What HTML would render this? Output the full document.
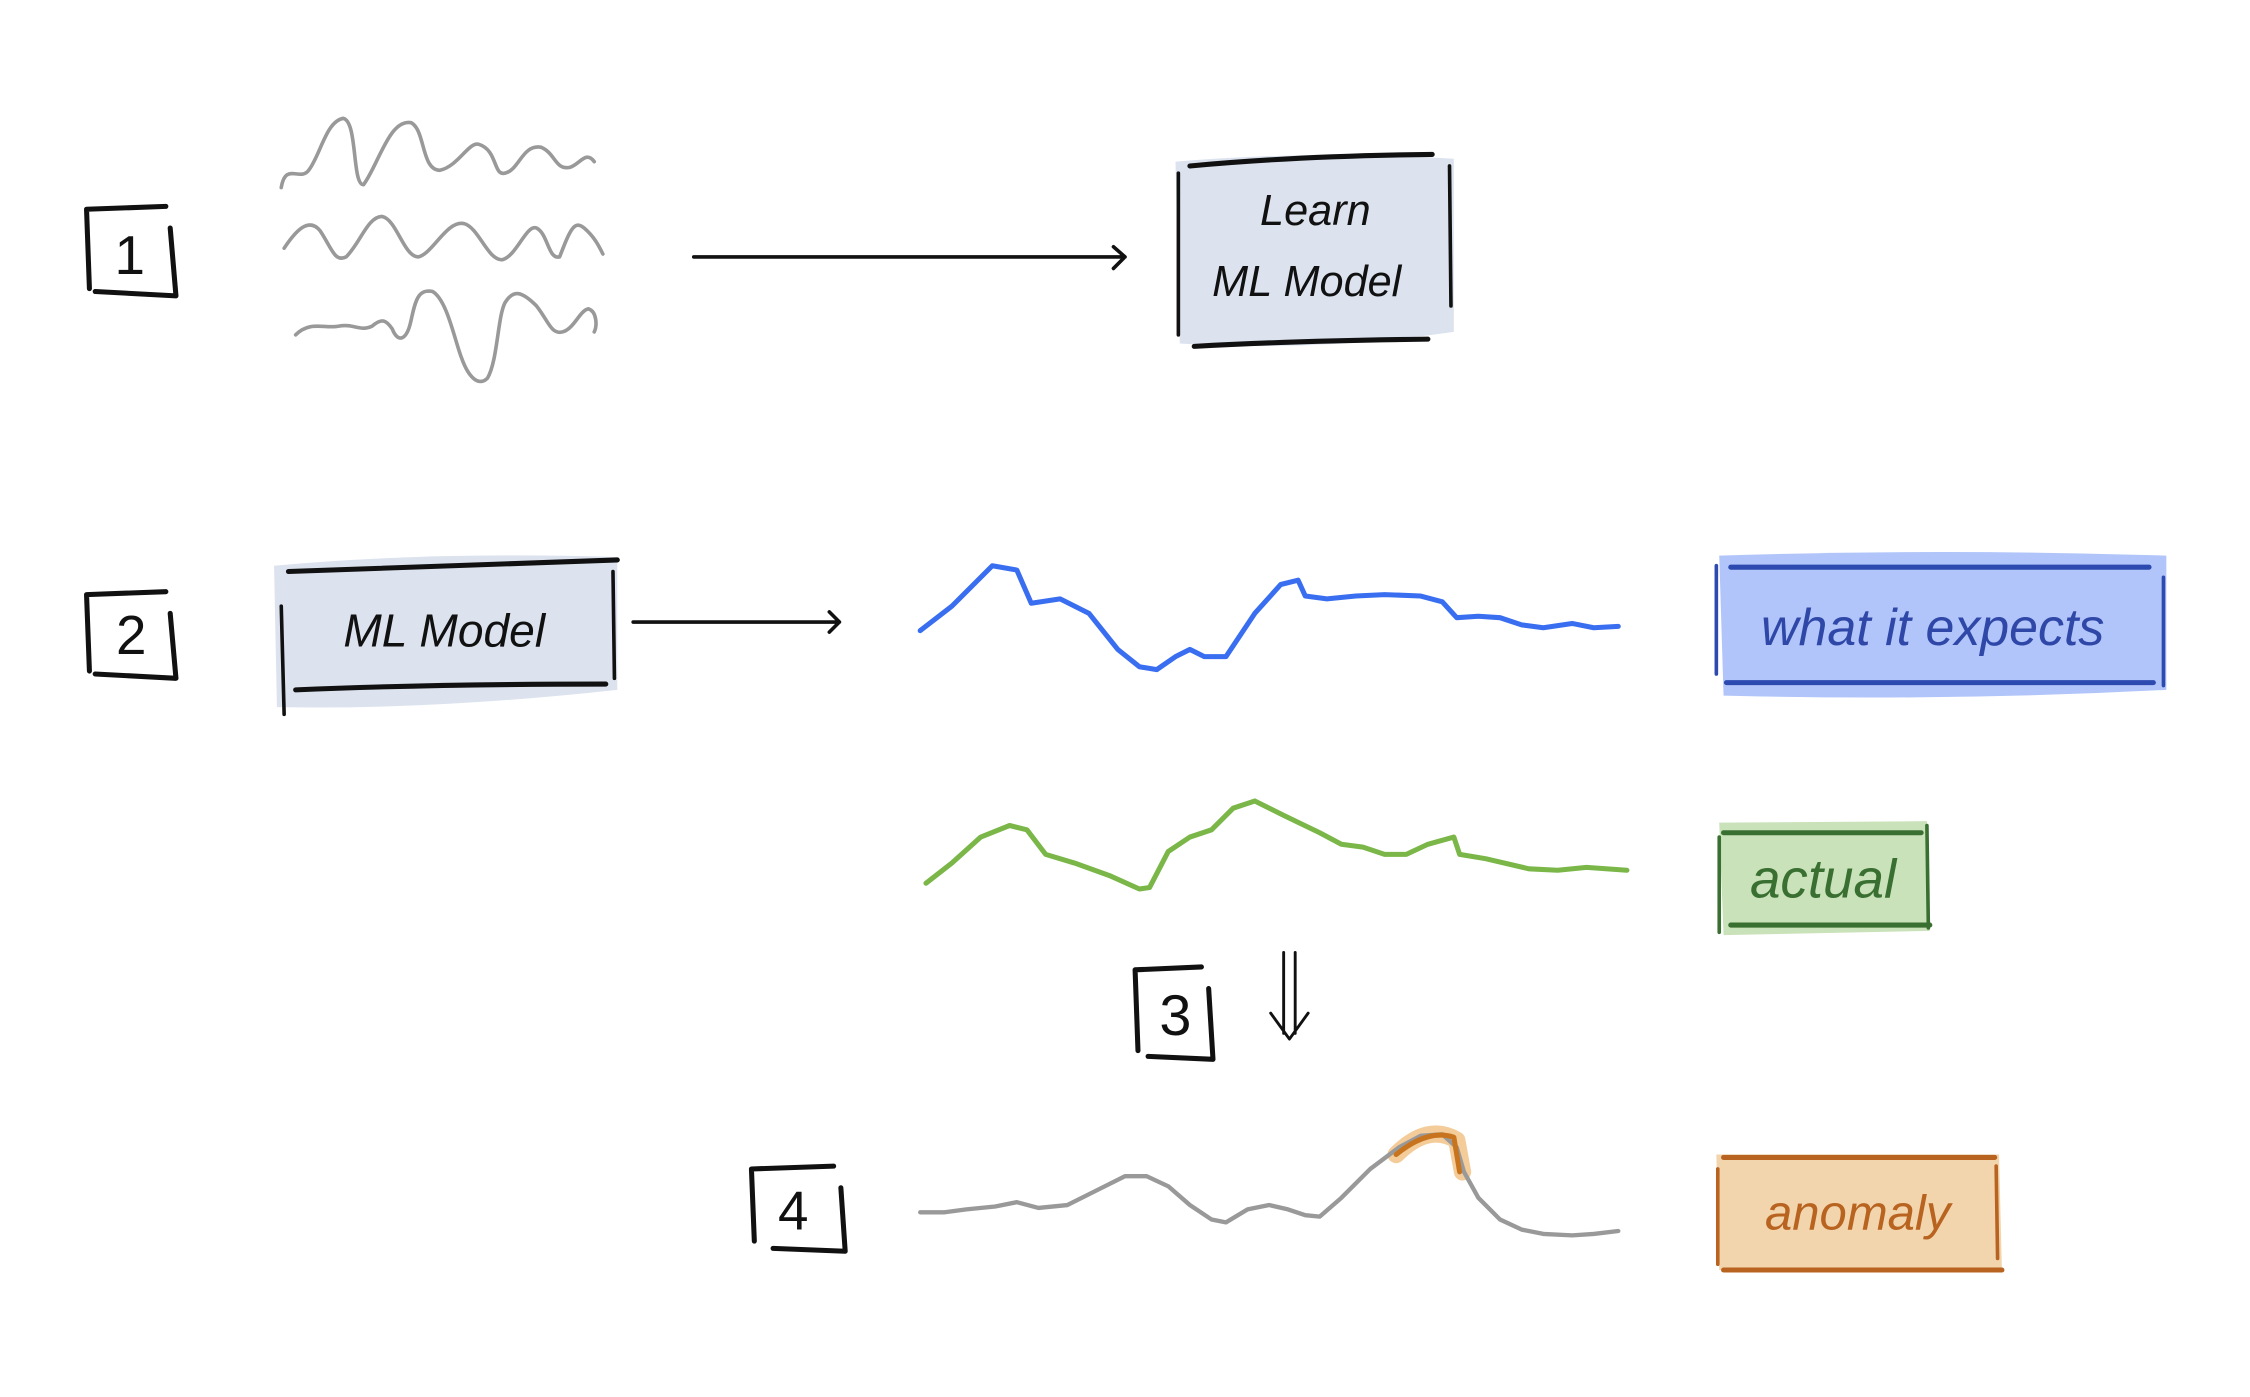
<!DOCTYPE html>
<html><head><meta charset="utf-8"><style>
html,body{margin:0;padding:0;background:#fff;}
svg{display:block}
text{font-family:"Liberation Sans",sans-serif;}
</style></head><body>
<svg width="2250" height="1397" viewBox="0 0 1560 968" preserveAspectRatio="none" xmlns="http://www.w3.org/2000/svg">
<g fill="none" stroke-linecap="round" stroke-linejoin="round">
<!-- box 1 -->
<path d="M62 200 L60 145 L115 143 M118 158 L122 205 L66 202" stroke="#111" stroke-width="3.5"/>
<!-- box 2 -->
<path d="M62 465 L60 412 L115 410 M118 425 L122 470 L66 467" stroke="#111" stroke-width="3.5"/>
<!-- box 3 -->
<path d="M789 728 L787 672 L833 670 M838 685 L841 734 L796 732" stroke="#111" stroke-width="3.5"/>
<!-- box 4 -->
<path d="M523 860 L521 810 L578 808 M583 823 L586 867 L536 865" stroke="#111" stroke-width="3.5"/>

<!-- gray waves -->
<path d="M195 130 C198 112 208 126 214 118 C222 108 226 84 238 82 C248 84 244 128 252 128 C262 115 270 82 285 85 C295 90 292 118 305 118 C318 115 325 98 332 100 C345 104 342 122 350 120 C360 118 362 100 375 102 C385 106 385 118 395 116 C402 114 406 104 412 112" stroke="#999" stroke-width="2.5"/>
<path d="M197 172 C205 160 214 150 222 160 C230 172 232 182 240 178 C250 168 255 150 265 150 C275 152 280 178 290 178 C300 176 310 152 322 155 C332 158 338 180 348 180 C358 178 365 155 372 158 C380 162 380 180 388 178 C395 160 398 152 405 158 C412 164 415 170 418 176" stroke="#999" stroke-width="2.5"/>
<path d="M205 232 C215 222 225 228 235 226 C245 224 250 230 258 226 C265 220 268 222 272 228 C276 238 282 236 285 222 C288 208 290 200 300 202 C310 208 315 235 320 248 C325 262 332 268 338 262 C345 250 345 220 350 210 C356 200 362 202 372 212 C380 222 382 232 390 230 C398 228 402 215 408 214 C414 216 414 226 412 230" stroke="#999" stroke-width="2.5"/>

<!-- arrow 1 -->
<path d="M481 178 L780 178 M772 171 L780 178 L772 186" stroke="#111" stroke-width="2.5"/>
</g>

<!-- Learn box -->
<path d="M815 112 Q910 104 1008 110 L1008 230 Q912 244 818 238 Z" fill="#dce3ef"/>
<g fill="none" stroke="#111" stroke-linecap="round">
<path d="M825 115 Q900 108 993 107" stroke-width="3.5"/>
<path d="M828 240 Q900 236 990 235" stroke-width="3.5"/>
<path d="M817 120 L817 232" stroke-width="2.5"/>
<path d="M1005 115 L1006 212" stroke-width="2.5"/>
</g>
<text x="912" y="156" font-size="30" font-style="italic" text-anchor="middle" fill="#111">Learn</text>
<text x="906" y="205" font-size="30" font-style="italic" text-anchor="middle" fill="#111">ML Model</text>

<!-- ML Model box -->
<path d="M190 392 Q300 382 428 386 L428 478 Q300 492 192 490 Z" fill="#dce3ef"/>
<g fill="none" stroke="#111" stroke-linecap="round">
<path d="M200 396 Q310 392 428 388" stroke-width="3.5"/>
<path d="M205 478 Q300 474 420 474" stroke-width="3.5"/>
<path d="M195 420 L197 495" stroke-width="2.5"/>
<path d="M425 396 L426 470" stroke-width="2.5"/>
</g>
<text x="308" y="448" font-size="32" font-style="italic" text-anchor="middle" fill="#111">ML  Model</text>

<g fill="none" stroke-linecap="round" stroke-linejoin="round">
<!-- arrow 2 -->
<path d="M439 431 L582 431 M575 424 L582 431 L575 438" stroke="#111" stroke-width="2.5"/>
<!-- blue line -->
<path d="M638 437 L660 420 L675 405 L688 392 L705 395 L715 418 L735 415 L755 425 L775 450 L790 462 L802 464 L815 455 L825 450 L835 455 L850 455 L870 425 L888 405 L900 402 L905 413 L920 415 L940 413 L960 412 L985 413 L1000 417 L1010 428 L1025 427 L1040 428 L1055 433 L1070 435 L1090 432 L1105 435 L1122 434" stroke="#3a6ef0" stroke-width="3.5"/>
<!-- green line -->
<path d="M642 612 L660 598 L680 580 L700 572 L712 575 L725 592 L745 598 L770 607 L790 616 L797 615 L810 590 L825 580 L840 575 L855 560 L870 555 L890 565 L915 577 L930 585 L945 587 L960 592 L975 592 L990 585 L1008 580 L1012 592 L1030 595 L1060 602 L1080 603 L1100 601 L1128 603" stroke="#7ab648" stroke-width="3.5"/>
<!-- gray line 4 -->
<path d="M968 800 Q990 778 1010 790 L1014 812" stroke="#f3cc9a" stroke-width="12"/>
<path d="M638 840 L655 840 L670 838 L690 836 L705 833 L720 837 L740 835 L760 825 L780 815 L795 815 L810 822 L825 835 L840 845 L850 847 L865 838 L880 835 L893 838 L905 842 L915 843 L930 830 L950 810 L970 795 L985 787 L1000 786 L1010 795 L1015 812 L1025 830 L1040 845 L1055 852 L1070 855 L1090 856 L1105 855 L1122 853" stroke="#999" stroke-width="3"/>
<path d="M968 800 Q990 782 1008 788 L1012 812" stroke="#c8741e" stroke-width="3.5"/>
<!-- double arrow -->
<path d="M890 660 L890 716 M898 660 L898 716 M881 702 L894 720 L907 702" stroke="#111" stroke-width="2"/>
</g>

<!-- blue box -->
<path d="M1192 385 Q1350 380 1502 385 L1502 478 Q1350 486 1195 482 Z" fill="#b1c5fa"/>
<g stroke="#2d4ab0" stroke-linecap="round" fill="none">
<path d="M1200 393 L1490 393" stroke-width="3.5"/>
<path d="M1197 473 L1493 473" stroke-width="3.5"/>
<path d="M1190 392 L1190 467" stroke-width="2.5"/>
<path d="M1500 400 L1500 475" stroke-width="2.5"/>
</g>
<text x="1340" y="447" font-size="36" font-style="italic" text-anchor="middle" fill="#2f48a8">what it expects</text>

<!-- green box -->
<path d="M1192 570 L1336 569 L1338 645 L1195 648 Z" fill="#c9e2b9"/>
<g stroke="#3a6f32" stroke-linecap="round" fill="none">
<path d="M1195 577 L1332 577" stroke-width="3.5"/>
<path d="M1200 641 L1338 641" stroke-width="3.5"/>
<path d="M1192 580 L1192 646" stroke-width="2.5"/>
<path d="M1336 572 L1337 643" stroke-width="2.5"/>
</g>
<text x="1264" y="622" font-size="38" font-style="italic" text-anchor="middle" fill="#3a6f32">actual</text>

<!-- anomaly box -->
<path d="M1190 800 L1386 800 L1388 880 L1192 880 Z" fill="#f2d5ad"/>
<g stroke="#b86420" stroke-linecap="round" fill="none">
<path d="M1195 802 L1383 802" stroke-width="3.5"/>
<path d="M1195 880 L1388 880" stroke-width="3.5"/>
<path d="M1191 810 L1191 876" stroke-width="2.5"/>
<path d="M1384 808 L1385 872" stroke-width="2.5"/>
</g>
<text x="1288" y="852" font-size="34" font-style="italic" text-anchor="middle" fill="#b86420">anomaly</text>

<!-- numbers -->
<text x="90" y="190" font-size="38" text-anchor="middle" fill="#111">1</text>
<text x="91" y="453" font-size="38" text-anchor="middle" fill="#111">2</text>
<text x="815" y="717" font-size="40" text-anchor="middle" fill="#111">3</text>
<text x="550" y="852" font-size="38" text-anchor="middle" fill="#111">4</text>
</svg>
</body></html>
